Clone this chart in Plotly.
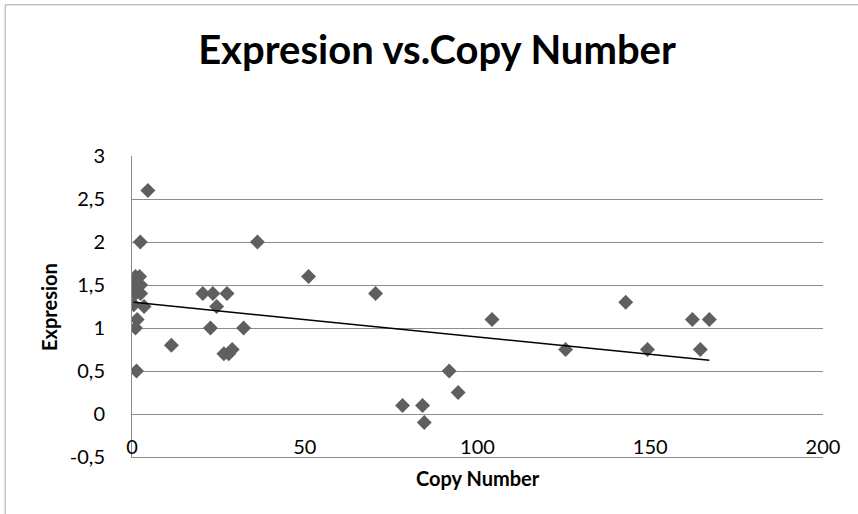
import numpy as np
import plotly.graph_objects as go

copy_number = [1.0, 2.2, 0.5, 2.5, 1.0, 2.5, 0.5, 3.5, 1.5, 1.0, 1.3, 2.4, 4.6,
               11.4, 20.5, 23.4, 27.5, 24.5, 22.7, 32.3, 26.6, 28.0, 29.0, 36.3,
               51.1, 70.5, 78.3, 84.1, 84.6, 91.8, 94.4, 104.2, 125.5, 142.9,
               149.2, 162.2, 167.1, 164.5]
expresion = [1.6, 1.6, 1.5, 1.5, 1.4, 1.4, 1.27, 1.25, 1.1, 1.0, 0.5, 2.0, 2.6,
             0.8, 1.4, 1.4, 1.4, 1.25, 1.0, 1.0, 0.7, 0.7, 0.75, 2.0,
             1.6, 1.4, 0.1, 0.1, -0.1, 0.5, 0.25, 1.1, 0.75, 1.3,
             0.75, 1.1, 1.1, 0.75]

y_tickvals = [-0.5, 0, 0.5, 1, 1.5, 2, 2.5, 3]
y_ticktext = ["-0,5", "0", "0,5", "1", "1,5", "2", "2,5", "3"]
x_tickvals = [0, 50, 100, 150, 200]
x_ticktext = ["0", "50", "100", "150", "200"]

slope, intercept = np.polyfit(copy_number, expresion, 1)
tx = np.array([min(copy_number), max(copy_number)])
ty = slope * tx + intercept

fig = go.Figure()
fig.add_trace(go.Scatter(x=copy_number, y=expresion, mode="markers",
                         marker=dict(symbol="diamond", size=11.5, color="#5f5f5f",
                                     line=dict(width=0)),
                         showlegend=False, hoverinfo="x+y"))
fig.add_trace(go.Scatter(x=tx, y=ty, mode="lines",
                         line=dict(color="black", width=1.5),
                         showlegend=False, hoverinfo="skip"))

W, H = 858, 514
L, R_EDGE, T, B_EDGE = 132.3, 823.3, 155.7, 456.7
pw, ph = R_EDGE - L, B_EDGE - T


def px(x):
    return (x - L) / pw


def py(y):
    return (B_EDGE - y) / ph


grid = "#8c8c8c"
border = dict(color="#a6a6a6", width=1)
fig.update_layout(
    width=W, height=H,
    paper_bgcolor="white", plot_bgcolor="white",
    margin=dict(l=L, r=W - R_EDGE, t=T, b=H - B_EDGE, pad=0),
    font=dict(family="Lato", color="black"),
    title=dict(text="<b>Expresion vs.Copy Number</b>",
               xref="container", yref="container",
               x=437 / W, xanchor="center",
               y=1 - 50 / H, yanchor="middle",
               font=dict(family="Lato", size=40, color="black")),
    xaxis=dict(range=[0, 200], tickvals=x_tickvals, ticktext=x_ticktext,
               ticklabelposition="inside", ticklabeloverflow="allow",
               showgrid=False, zeroline=False,
               showline=True, linecolor=grid, linewidth=1, ticks="",
               tickfont=dict(size=20, color="black")),
    yaxis=dict(range=[-0.5, 3], tickvals=y_tickvals, ticktext=y_ticktext,
               ticklabeloverflow="allow",
               showgrid=True, gridcolor=grid, gridwidth=1, zeroline=False,
               showline=True, linecolor=grid, linewidth=1, ticks="",
               ticklabelstandoff=22,
               tickfont=dict(size=20, color="black")),
    annotations=[
        dict(text="<b>Copy Number</b>", xref="paper", yref="paper",
             x=px(478), y=py(478),
             xanchor="center", yanchor="middle", showarrow=False,
             font=dict(family="Lato", size=20, color="black")),
        dict(text="<b>Expresion</b>", xref="paper", yref="paper",
             x=px(50), y=py(307), textangle=-90,
             xanchor="center", yanchor="middle", showarrow=False,
             font=dict(family="Lato", size=20, color="black")),
    ],
    shapes=[
        dict(type="line", xref="paper", yref="paper",
             x0=px(5.5), x1=px(5.5), y0=py(520), y1=py(4.5), line=border),
        dict(type="line", xref="paper", yref="paper",
             x0=px(5.5), x1=px(870), y0=py(4.5), y1=py(4.5), line=border),
    ],
)

fig.write_html("out.html",
               config={"displayModeBar": False},
               post_script="document.body.style.margin='0';"
                           "document.body.style.overflow='hidden';")
